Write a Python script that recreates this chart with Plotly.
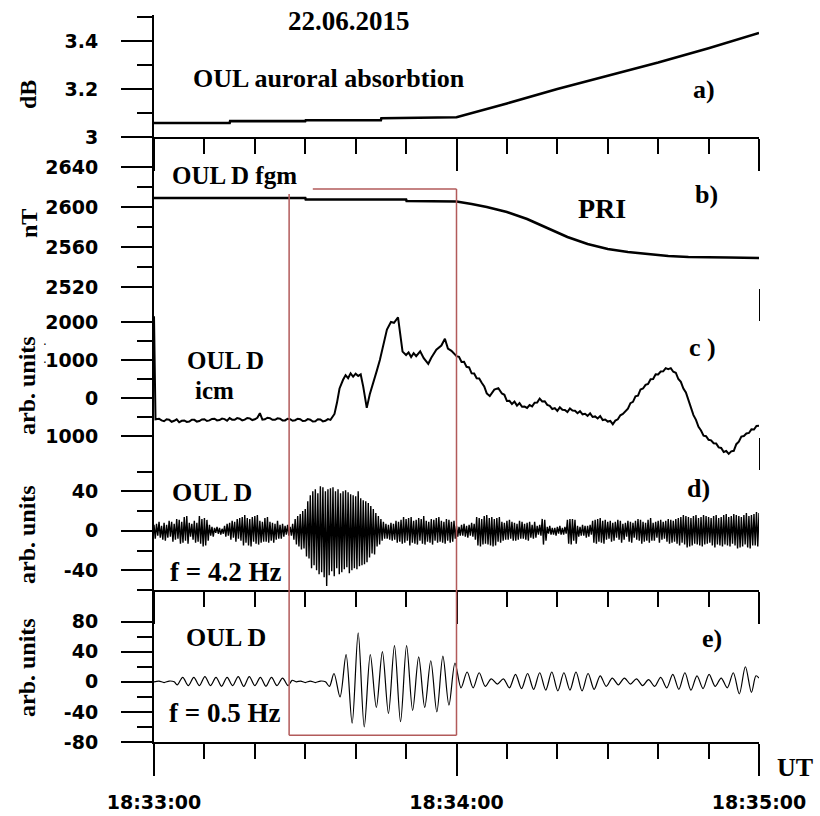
import plotly.graph_objects as go

# ---------------- data ----------------
time_ticks = [0, 60, 120]
time_labels = ["18:33:00", "18:34:00", "18:35:00"]
time_minor = [10, 20, 30, 40, 50, 70, 80, 90, 100, 110]

# a) OUL auroral absorption, dB
a_t = [0, 15, 15.1, 30, 30.1, 45, 45.1, 60, 70, 80, 90, 100, 110, 120]
a_db = [3.058, 3.058, 3.066, 3.066, 3.070, 3.070, 3.078, 3.082, 3.140, 3.200, 3.255, 3.310, 3.370, 3.433]

# b) OUL D fgm, nT
b_t = [0, 30, 30.1, 50, 50.1, 60, 63, 66, 70, 74, 78, 82, 86, 90, 94, 98, 102, 106, 110, 114, 120]
b_nt = [2609, 2609, 2607.5, 2607.5, 2606, 2605.5, 2603, 2600, 2595, 2588, 2579, 2570, 2563, 2558,
        2555, 2553, 2551, 2550, 2550, 2549.5, 2549]

# c) OUL D icm, arb. units
c_t_start = [0, 0.3]
c_v_start = [2150, -560]
c_t_quiet = [1 + 0.5 * i for i in range(69)]          # 1 .. 35 s
c_v_quiet = [-545, -590, -610, -560, -570, -625, -600, -560, -640, -600,
             -590, -630, -620, -570, -575, -620, -605, -565, -560, -605,
             -590, -550, -545, -590, -580, -540, -555, -600, -530, -570,
             -575, -530, -545, -590, -570, -525, -535, -580, -560, -520,
             -400, -570, -560, -520, -530, -575, -575, -535, -545, -590,
             -590, -545, -555, -600, -585, -545, -560, -605, -600, -555,
             -570, -620, -610, -560, -565, -615, -600, -555, -575]
c_t_event = [35.8, 36.3, 36.8, 37.5, 38, 38.5, 39, 39.5, 40, 40.5, 41, 41.5, 42.2, 42.8, 43.5,
             44.2, 44.8, 45.5, 46.2, 47, 47.6, 48.4, 49, 49.3, 50, 50.5, 51, 51.5, 52, 52.8,
             53.5, 54.4, 55, 56, 57, 57.7, 58.3, 59,
             60, 60.5, 61, 61.5, 62, 62.5, 63, 63.5, 64, 64.5, 65, 65.5, 66, 66.6, 67.5, 68.3,
             69, 69.5]
c_v_event = [-420, -120, 250, 480, 600, 520, 650, 560, 640, 580, 620, 300, -260, 100, 380,
             720, 1000, 1400, 1800, 2000, 1980, 2120, 1600, 1220, 1130, 1200, 1080, 1180, 1100, 1230,
             1050, 900, 1060, 1270, 1380, 1560, 1300, 1240,
             1100, 1085, 950, 955, 820, 805, 650, 645, 520, 515, 400, 305, 120, 50, 220, 260,
             120, 85]
c_t_late = [70 + 0.5 * i for i in range(101)]          # 70 .. 120 s
c_v_late = [-80, -75, -160, -95, -200, -135, -230, -225, -260, -185,
            -220, -125, -120, -15, -90, -85, -180, -205, -290, -265,
            -340, -245, -310, -315, -370, -275, -330, -335, -400, -345,
            -430, -415, -470, -405, -500, -485, -540, -475, -580, -565,
            -620, -605, -690, -595, -560, -455, -420, -335, -280, -135,
            -100, 45, 60, 225, 250, 345, 370, 495, 500, 625,
            620, 695, 700, 785, 760, 785, 690, 665, 500, 425,
            250, 145, -50, -205, -450, -575, -760, -855, -990, -1005,
            -1100, -1115, -1190, -1195, -1300, -1315, -1420, -1395, -1470, -1405,
            -1390, -1215, -1150, -1015, -1000, -935, -920, -825, -830, -735,
            -730]
c_t = c_t_start + c_t_quiet + c_t_event + c_t_late
c_v = c_v_start + c_v_quiet + c_v_event + c_v_late

# d) OUL D filtered f = 4.2 Hz, sampled every 0.25 s
d_step = 0.25
d_v = [
    6, -8, 7, -5, 9, -7, 5, -9, 8, -10, 6, -7, 10, -6, 9, -11, 7, -9, 12, -8,
    11, -13, 9, -12, 14, -10, 15, -13, 8, -6, 7, -9, 10, -12, 8, -11, 15, -13, 12, -16,
    13, -15, 11, -10, 6, -5, 4, -6, 3, -2, 4, -3, 3, -4, 2, -3, 5, -6, 7, -5,
    8, -9, 10, -7, 9, -11, 12, -8, 13, -10, 14, -15, 16, -12, 13, -15, 12, -16, 14, -11,
    15, -13, 16, -14, 10, -12, 9, -11, 13, -11, 14, -12, 9, -10, 8, -12, 7, -9, 10, -8,
    6, -8, 7, -6, 5, -4, 6, -5, 4, -5, 7, -9, 12, -14, 15, -16, 17, -19, 20, -18,
    22, -26, 30, -28, 36, -38, 40, -35, 42, -40, 38, -44, 45, -42, 44, -47, 40, -56, 42, -45,
    43, -41, 44, -46, 40, -38, 42, -44, 38, -42, 40, -39, 41, -37, 39, -43, 37, -40, 36, -38,
    35, -39, 40, -36, 33, -35, 31, -34, 30, -32, 28, -27, 25, -23, 22, -24, 18, -16, 15, -14,
    12, -10, 9, -8, 7, -8, 6, -9, 8, -10, 7, -9, 10, -12, 9, -11, 11, -13, 14, -12,
    12, -10, 13, -15, 14, -12, 10, -13, 11, -14, 13, -10, 12, -13, 15, -14, 10, -11, 9, -12,
    12, -14, 11, -10, 13, -12, 14, -11, 10, -12, 9, -13, 12, -10, 11, -12, 9, -11, 10, -8,
    5, -6, 4, -5, 6, -5, 7, -6, 5, -7, 6, -5, 8, -6, 7, -9, 14, -15, 13, -16,
    12, -14, 15, -13, 16, -14, 13, -15, 14, -16, 12, -15, 13, -11, 14, -12, 9, -10, 8, -9,
    10, -9, 11, -8, 9, -10, 8, -10, 7, -9, 10, -8, 9, -8, 7, -9, 8, -10, 9, -7,
    6, -8, 9, -7, 5, -4, 6, -5, 12, -14, 11, -10, 4, -3, 5, -4, 3, -4, 3, -5,
    4, -3, 5, -4, 3, -4, 4, -3, 11, -13, 12, -14, 12, -10, 11, -13, 5, -6, 4, -5,
    6, -5, 5, -7, 5, -6, 6, -4, 10, -12, 11, -13, 12, -11, 13, -12, 10, -13, 11, -9,
    9, -8, 10, -11, 8, -10, 9, -7, 11, -9, 10, -12, 7, -9, 8, -6, 10, -11, 9, -12,
    8, -7, 10, -9, 12, -10, 11, -13, 9, -11, 8, -10, 11, -12, 13, -10, 8, -10, 9, -7,
    10, -12, 11, -9, 9, -8, 10, -11, 12, -13, 11, -12, 10, -11, 12, -13, 13, -15, 14, -12,
    16, -14, 15, -17, 14, -16, 13, -15, 15, -13, 16, -14, 13, -15, 14, -16, 16, -14, 15, -13,
    14, -12, 13, -15, 15, -17, 16, -14, 13, -15, 14, -16, 16, -14, 17, -15, 14, -16, 15, -13,
    17, -15, 16, -18, 15, -17, 14, -16, 16, -14, 18, -17, 15, -18, 16, -15, 17, -15, 19, -16,
    18,
]
d_t = [i * d_step for i in range(len(d_v))]

# e) OUL D filtered f = 0.5 Hz, extrema of the oscillation
e_t = [0, 1, 2, 3, 4, 4.6, 5.7, 6.8, 7.9, 9.0, 10.1, 11.2, 12.3, 13.4, 14.5, 15.6, 16.7, 17.8,
       18.9, 20.0, 21.1, 22.2, 23.3, 24.4, 25.5, 26.6, 27.4, 28.2, 29.1, 30.0, 31.0, 32.0, 33.0,
       34.0, 34.8,
       35.7, 36.9, 38.1, 39.3, 40.5, 41.7, 42.9, 44.1, 45.3, 46.5, 47.7, 48.9, 50.1, 51.3, 52.5,
       53.7, 54.9, 56.1, 57.3, 58.5, 59.7,
       60.9, 62.1, 63.3, 64.5, 65.7, 66.9, 68.1, 69.3, 70.5, 71.7, 72.9, 74.1, 75.3, 76.5, 77.7,
       78.9, 80.1, 81.3, 82.5, 83.7, 84.9, 86.1, 87.3, 88.5, 89.7, 90.9, 92.1, 93.3, 94.5, 95.7,
       96.9, 98.1, 99.3, 100.5, 101.7, 102.9, 104.1, 105.3, 106.5, 107.7, 108.9, 110.1, 111.3,
       112.5, 113.7, 114.9, 116.1, 117.3, 118.5, 119.4, 120]
e_v = [0, 1, -1, 1, 0, -4, 6, -5, 6, -5, 7, -5, 6, -6, 6, -5, 7, -6, 7, -5, 6, -6, 6, -5, 5, -5,
       2, 0, 1, -1, 1, -1, 1, 0, -6,
       11, -20, 36, -55, 65, -60, 36, -34, 40, -42, 48, -53, 48, -38, 33, -34, 28, -40, 34, -31, 25,
       -8, 13, -8, 12, -6, 4, -3, 4, -8, 10, -9, 11, -10, 12, -11, 13, -12, 12, -11, 13,
       -12, 11, -10, 8, -6, 5, -4, 5, -3, 4, -5, 3, -6, 6, -8, 10, -10, 12, -11, 8,
       -9, 10, -6, 5, -8, 12, -16, 20, -14, 8, 5]

# box marking the event (time span, top in panel b nT, bottom in panel e units)
box_t = [26.8, 60.0]
box_top_nt = 2618
box_bottom_e = -71
box_label_gap_t = 31.5

# ---------------- layout geometry ----------------
W, H = 820, 816
ML, MR, MT, MB = 154, 61, 15, 74
PH = H - MT - MB


def dom(top_px, bot_px):
    return [(H - MB - bot_px) / PH, (H - MB - top_px) / PH]


doms = [dom(15, 137), dom(137, 287), dom(287, 436), dom(436, 590), dom(590, 742)]
ranges = [[3.0, 3.508], [2520, 2670], [-1000, 2921], [-60, 96], [-80, 122]]

y_major = [[3.0, 3.2, 3.4], [2520, 2560, 2600, 2640], [-1000, 0, 1000, 2000], [-40, 0, 40],
           [-80, -40, 0, 40, 80]]
y_text = [["3", "3.2", "3.4"], ["2520", "2560", "2600", "2640"], ["1000", "0", "1000", "2000"],
          ["-40", "0", "40"], ["-80", "-40", "0", "40", "80"]]
y_minor = [[3.1, 3.3, 3.5], [2540, 2580, 2620], [-500, 500, 1500], [-60, -20, 20, 60],
           [-60, -20, 20, 60]]


def to_paper(val, k):
    d, r = doms[k], ranges[k]
    return d[0] + (val - r[0]) / (r[1] - r[0]) * (d[1] - d[0])


TICKFONT = dict(family="DejaVu Sans", size=19, color="black", weight="bold")
SERIF = "Liberation Serif"

fig = go.Figure()

line_w = [2.6, 2.6, 2.0, 1.4, 1.2]
series = [(a_t, a_db, "linear"), (b_t, b_nt, "linear"), None, (d_t, d_v, "linear"),
          (e_t, e_v, "spline")]
for k in range(5):
    xa = "x" if k == 0 else f"x{k+1}"
    ya = "y" if k == 0 else f"y{k+1}"
    if series[k] is None:
        # keep the subplot alive (its axes), the curve itself is drawn on x6/y6
        fig.add_trace(go.Scatter(x=[None], y=[None], mode="lines", xaxis=xa, yaxis=ya,
                                 showlegend=False, hoverinfo="skip"))
        continue
    t, v, shape = series[k]
    fig.add_trace(go.Scatter(x=t, y=v, mode="lines", xaxis=xa, yaxis=ya,
                             line=dict(color="black", width=line_w[k], shape=shape,
                                       smoothing=0.9 if shape == "spline" else None),
                             showlegend=False, hoverinfo="skip"))

# panel c trace drawn on a hidden axis pair of the same scale, allowed to dip below the panel
ext_px = 36
dc = doms[2]
rc = ranges[2]
scale = (rc[1] - rc[0]) / (dc[1] - dc[0])
ext = ext_px / PH
fig.add_trace(go.Scatter(x=c_t, y=c_v, mode="lines", xaxis="x6", yaxis="y6",
                         line=dict(color="black", width=line_w[2]),
                         showlegend=False, hoverinfo="skip"))

layout = dict(width=W, height=H, margin=dict(l=ML, r=MR, t=MT, b=MB, autoexpand=False),
              paper_bgcolor="white", plot_bgcolor="white", showlegend=False)

for k in range(5):
    xn = "xaxis" if k == 0 else f"xaxis{k+1}"
    yn = "yaxis" if k == 0 else f"yaxis{k+1}"
    layout[xn] = dict(domain=[0, 1], anchor="y" if k == 0 else f"y{k+1}",
                      range=[0, 120], showgrid=False, zeroline=False, automargin=False,
                      showline=True, linecolor="black", linewidth=2,
                      tickmode="array", tickvals=time_ticks,
                      ticktext=time_labels, showticklabels=(k == 4),
                      ticks="outside", ticklen=32, tickwidth=2, tickcolor="black",
                      tickfont=TICKFONT, ticklabelstandoff=10,
                      minor=dict(tickmode="array", tickvals=time_minor, ticks="outside",
                                 ticklen=15, tickwidth=2, tickcolor="black", showgrid=False))
    if k:
        layout[xn]["matches"] = "x"
    layout[yn] = dict(domain=doms[k], anchor="x" if k == 0 else f"x{k+1}",
                      range=ranges[k], showgrid=False, zeroline=False, automargin=False,
                      showline=True, linecolor="black", linewidth=2,
                      tickmode="array", tickvals=y_major[k], ticktext=y_text[k],
                      ticks="outside", ticklen=31, tickwidth=2, tickcolor="black",
                      tickfont=TICKFONT, ticklabelstandoff=19,
                      minor=dict(tickmode="array", tickvals=y_minor[k], ticks="outside",
                                 ticklen=15, tickwidth=2, tickcolor="black", showgrid=False))

layout["xaxis6"] = dict(domain=[0, 1], anchor="y6", range=[0, 120], matches="x", visible=False,
                        showgrid=False, zeroline=False, automargin=False)
layout["yaxis6"] = dict(domain=[dc[0] - ext, dc[1]], anchor="x6",
                        range=[rc[0] - ext * scale, rc[1]], visible=False,
                        showgrid=False, zeroline=False, automargin=False)

fig.update_layout(**layout)

# ---- red event box ----
RED = "#b25a5a"
top_p = to_paper(box_top_nt, 1)
bot_p = to_paper(box_bottom_e, 4)
left_top_p = to_paper(box_top_nt - 5, 1)
shapes = [
    dict(type="line", xref="x", yref="paper", x0=box_label_gap_t, x1=box_t[1], y0=top_p, y1=top_p),
    dict(type="line", xref="x", yref="paper", x0=box_t[1], x1=box_t[1], y0=top_p, y1=bot_p),
    dict(type="line", xref="x", yref="paper", x0=box_t[0], x1=box_t[1], y0=bot_p, y1=bot_p),
    dict(type="line", xref="x", yref="paper", x0=box_t[0], x1=box_t[0], y0=left_top_p, y1=bot_p),
]
for s in shapes:
    s["line"] = dict(color=RED, width=1.5)
    s["layer"] = "above"
fig.update_layout(shapes=shapes)


# ---- text ----
def px_to_paper_x(px):
    return (px - ML) / (W - ML - MR)


def px_to_paper_y(py):
    return (H - MB - py) / PH


def note(text, cx, cy, size=26, angle=0, family=SERIF, bold=True):
    fig.add_annotation(text=f"<b>{text}</b>" if bold else text,
                       x=px_to_paper_x(cx), y=px_to_paper_y(cy), xref="paper", yref="paper",
                       showarrow=False, textangle=angle, xanchor="center", yanchor="middle",
                       font=dict(family=family, size=size, color="black"))


note("22.06.2015", 349, 21, 27)
note("OUL auroral absorbtion", 329, 79, 26)
note("a)", 704, 90, 26)
note("OUL D fgm", 234, 175, 25)
note("b)", 706, 195, 26)
note("PRI", 602, 208, 28)
note("OUL D", 225, 360, 25)
note("icm", 214, 391, 25)
note("c )", 702, 347, 26)
note("OUL D", 212, 492, 26)
note("d)", 698, 488, 26)
note("f = 4.2 Hz", 225, 572, 27)
note("OUL D", 226, 637, 26)
note("e)", 712, 638, 26)
note("f = 0.5 Hz", 224, 713, 27)
note("UT", 795, 767, 26)

note("dB", 28, 95, 24, -90)
note("nT", 29, 224, 24, -90)
note("arb. units", 27, 386, 24, -90)
note("arb. units", 27, 535, 24, -90)
note("arb. units", 27, 668, 24, -90)
note("·", 45, 345, 12, 0, "DejaVu Sans", False)
note("·", 45, 363, 12, 0, "DejaVu Sans", False)

fig.write_html("out.html")
